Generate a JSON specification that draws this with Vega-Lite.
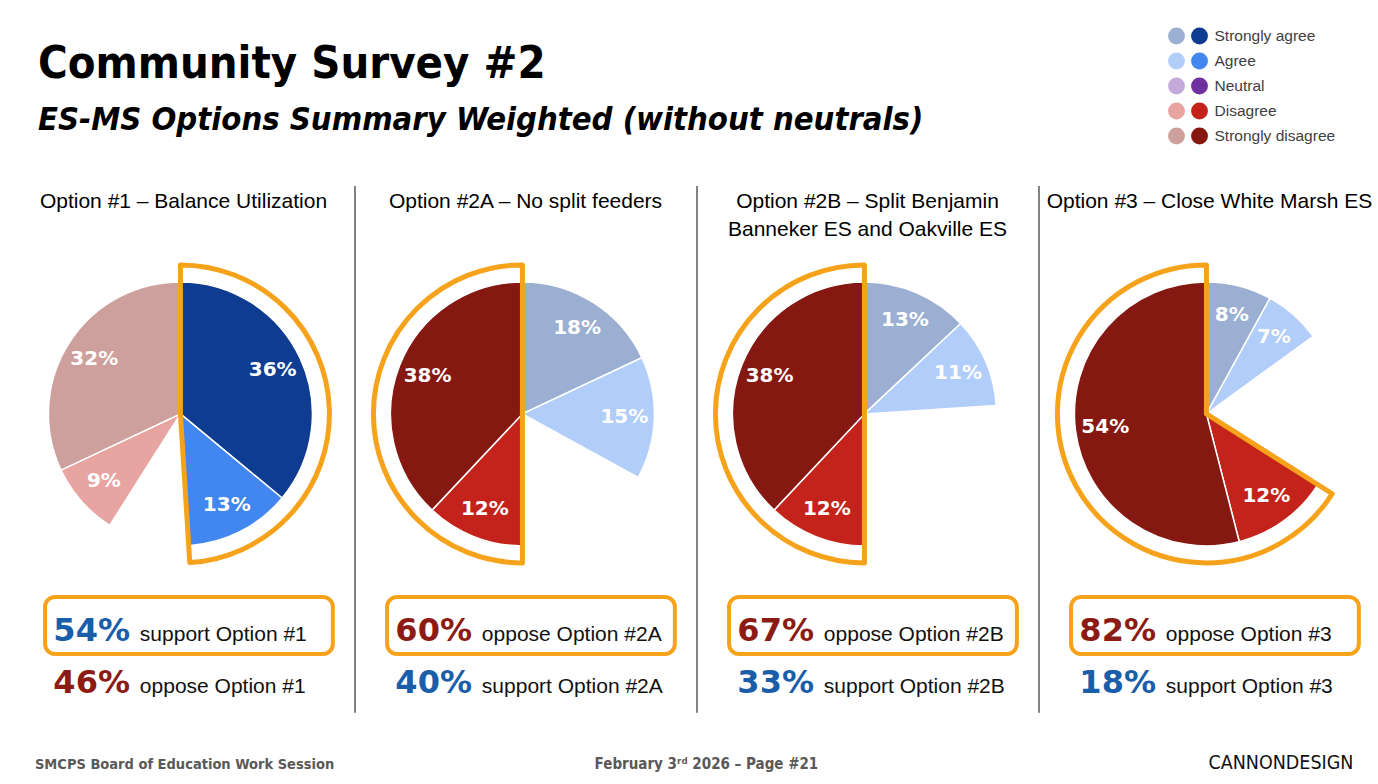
{
  "$schema": "https://vega.github.io/schema/vega-lite/v6.json",
  "padding": {"left": 13, "top": 0, "right": 0, "bottom": 0},
  "background": "white",
  "spacing": 0,
  "config": {
    "view": {"stroke": null},
    "concat": {"spacing": 0},
    "facet": {"spacing": 0},
    "font": "Liberation Sans"
  },
  "datasets": {
    "rows": [
      {"kind": "slice", "option": "Option #1", "cat": "Strongly agree", "ord": 1, "grp": "support", "shade": "bold", "value": 0.36},
      {"kind": "slice", "option": "Option #1", "cat": "Agree", "ord": 2, "grp": "support", "shade": "bold", "value": 0.13},
      {"kind": "slice", "option": "Option #1", "cat": "Neutral", "ord": 3, "grp": "neutral", "shade": "gap", "value": 0.10},
      {"kind": "slice", "option": "Option #1", "cat": "Disagree", "ord": 4, "grp": "oppose", "shade": "faded", "value": 0.09},
      {"kind": "slice", "option": "Option #1", "cat": "Strongly disagree", "ord": 5, "grp": "oppose", "shade": "faded", "value": 0.32},
      {"kind": "slice", "option": "Option #2A", "cat": "Strongly agree", "ord": 1, "grp": "support", "shade": "faded", "value": 0.18},
      {"kind": "slice", "option": "Option #2A", "cat": "Agree", "ord": 2, "grp": "support", "shade": "faded", "value": 0.15},
      {"kind": "slice", "option": "Option #2A", "cat": "Neutral", "ord": 3, "grp": "neutral", "shade": "gap", "value": 0.17},
      {"kind": "slice", "option": "Option #2A", "cat": "Disagree", "ord": 4, "grp": "oppose", "shade": "bold", "value": 0.12},
      {"kind": "slice", "option": "Option #2A", "cat": "Strongly disagree", "ord": 5, "grp": "oppose", "shade": "bold", "value": 0.38},
      {"kind": "slice", "option": "Option #2B", "cat": "Strongly agree", "ord": 1, "grp": "support", "shade": "faded", "value": 0.13},
      {"kind": "slice", "option": "Option #2B", "cat": "Agree", "ord": 2, "grp": "support", "shade": "faded", "value": 0.11},
      {"kind": "slice", "option": "Option #2B", "cat": "Neutral", "ord": 3, "grp": "neutral", "shade": "gap", "value": 0.26},
      {"kind": "slice", "option": "Option #2B", "cat": "Disagree", "ord": 4, "grp": "oppose", "shade": "bold", "value": 0.12},
      {"kind": "slice", "option": "Option #2B", "cat": "Strongly disagree", "ord": 5, "grp": "oppose", "shade": "bold", "value": 0.38},
      {"kind": "slice", "option": "Option #3", "cat": "Strongly agree", "ord": 1, "grp": "support", "shade": "faded", "value": 0.08},
      {"kind": "slice", "option": "Option #3", "cat": "Agree", "ord": 2, "grp": "support", "shade": "faded", "value": 0.07},
      {"kind": "slice", "option": "Option #3", "cat": "Neutral", "ord": 3, "grp": "neutral", "shade": "gap", "value": 0.19},
      {"kind": "slice", "option": "Option #3", "cat": "Disagree", "ord": 4, "grp": "oppose", "shade": "bold", "value": 0.12},
      {"kind": "slice", "option": "Option #3", "cat": "Strongly disagree", "ord": 5, "grp": "oppose", "shade": "bold", "value": 0.54},
      {"kind": "panel", "option": "Option #1", "title": "Option #1 – Balance Utilization", "hlValue": 0.54, "hlSide": "support", "hlText": "support Option #1", "otValue": 0.46, "otSide": "oppose", "otText": "oppose Option #1"},
      {"kind": "panel", "option": "Option #2A", "title": "Option #2A – No split feeders", "hlValue": 0.60, "hlSide": "oppose", "hlText": "oppose Option #2A", "otValue": 0.40, "otSide": "support", "otText": "support Option #2A"},
      {"kind": "panel", "option": "Option #2B", "title": "Option #2B – Split Benjamin\nBanneker ES and Oakville ES", "hlValue": 0.67, "hlSide": "oppose", "hlText": "oppose Option #2B", "otValue": 0.33, "otSide": "support", "otText": "support Option #2B"},
      {"kind": "panel", "option": "Option #3", "title": "Option #3 – Close White Marsh ES", "hlValue": 0.82, "hlSide": "oppose", "hlText": "oppose Option #3", "otValue": 0.18, "otSide": "support", "otText": "support Option #3"}
    ],
    "legend": [
      {"cat": "Strongly agree", "shade": "faded"},
      {"cat": "Strongly agree", "shade": "bold"},
      {"cat": "Agree", "shade": "faded"},
      {"cat": "Agree", "shade": "bold"},
      {"cat": "Neutral", "shade": "faded"},
      {"cat": "Neutral", "shade": "bold"},
      {"cat": "Disagree", "shade": "faded"},
      {"cat": "Disagree", "shade": "bold"},
      {"cat": "Strongly disagree", "shade": "faded"},
      {"cat": "Strongly disagree", "shade": "bold"}
    ]
  },
  "vconcat": [
    {
      "spacing": 0,
      "hconcat": [
        {
          "width": 1152,
          "height": 185,
          "data": {"values": [{}]},
          "layer": [
            {
              "mark": {"type": "text", "text": "Community Survey #2", "align": "left", "baseline": "alphabetic", "font": "DejaVu Sans Condensed", "fontWeight": "bold", "fontSize": 45, "color": "#000000"},
              "encoding": {
                "x": {"datum": 2.17, "type": "quantitative", "scale": {"domain": [0, 100]}, "axis": null},
                "y": {"datum": 57.8, "type": "quantitative", "scale": {"domain": [0, 100]}, "axis": null}
              }
            },
            {
              "mark": {"type": "text", "text": "ES-MS Options Summary Weighted (without neutrals)", "align": "left", "baseline": "alphabetic", "font": "DejaVu Sans Condensed", "fontWeight": "bold", "fontStyle": "italic", "fontSize": 32.5, "color": "#000000"},
              "encoding": {
                "x": {"datum": 2.17, "type": "quantitative"},
                "y": {"datum": 29.7, "type": "quantitative"}
              }
            }
          ]
        },
        {
          "width": 46,
          "height": 150,
          "data": {"name": "legend"},
          "layer": [
            {
              "mark": {"type": "circle", "size": 285, "opacity": 1},
              "encoding": {
                "x": {"field": "shade", "type": "nominal", "scale": {"type": "point", "domain": ["faded", "bold"], "padding": 0.5, "align": 0.5}, "axis": null},
                "y": {"field": "cat", "type": "nominal", "scale": {"type": "point", "domain": ["Strongly agree", "Agree", "Neutral", "Disagree", "Strongly disagree"], "padding": 1, "align": 0.72}, "axis": null},
                "color": {"field": "cat", "type": "nominal", "scale": {"domain": ["Strongly agree", "Agree", "Neutral", "Disagree", "Strongly disagree"], "range": ["#0D3C91", "#4286F0", "#7030A0", "#C4231B", "#861812"]}, "legend": null},
                "fillOpacity": {"field": "shade", "type": "nominal", "scale": {"type": "ordinal", "domain": ["faded", "bold", "gap"], "range": [0.41, 1, 0]}, "legend": null}
              }
            },
            {
              "transform": [{"filter": "datum.shade === 'bold'"}],
              "mark": {"type": "text", "align": "left", "baseline": "middle", "dx": 15, "fontSize": 15.5, "color": "#404040", "font": "Liberation Sans"},
              "encoding": {
                "x": {"field": "shade", "type": "nominal"},
                "y": {"field": "cat", "type": "nominal"},
                "text": {"field": "cat", "type": "nominal"}
              }
            }
          ]
        }
      ]
    },
    {
      "data": {"name": "rows"},
      "spacing": 0,
      "facet": {
        "column": {"field": "option", "type": "nominal", "title": null, "header": {"labels": false, "title": null}, "sort": ["Option #1", "Option #2A", "Option #2B", "Option #3"]}
      },
      "spec": {
        "width": 341,
        "height": 530,
        "layer": [
          {
            "transform": [{"filter": "datum.kind === 'panel' && datum.option !== 'Option #1'"}],
            "mark": {"type": "rule", "color": "#303030", "strokeWidth": 1.2},
            "encoding": {
              "x": {"datum": 0, "type": "quantitative", "scale": {"domain": [0, 100]}, "axis": null},
              "y": {"datum": 0.6, "type": "quantitative", "scale": {"domain": [0, 100]}, "axis": null},
              "y2": {"datum": 100}
            }
          },
          {
            "transform": [{"filter": "datum.kind === 'slice'"}],
            "mark": {"type": "arc", "outerRadius": 132, "stroke": "white", "strokeWidth": 1.5},
            "encoding": {
              "theta": {"field": "value", "type": "quantitative", "stack": true, "scale": {"domain": [0, 1]}},
              "order": {"field": "ord", "type": "quantitative"},
              "color": {"field": "cat", "type": "nominal", "legend": null},
              "fillOpacity": {"field": "shade", "type": "nominal", "scale": {"type": "ordinal", "domain": ["faded", "bold", "gap"], "range": [0.41, 1, 0]}, "legend": null},
              "strokeOpacity": {"condition": {"test": "datum.shade === 'gap'", "value": 0}, "value": 1},
              "x": {"datum": 49.1, "type": "quantitative"},
              "y": {"datum": 57, "type": "quantitative"}
            }
          },
          {
            "transform": [{"filter": "datum.kind === 'slice'"}],
            "mark": {"type": "arc", "outerRadius": 149, "fill": "transparent", "stroke": "#F7A21B", "strokeWidth": 5, "strokeJoin": "round"},
            "encoding": {
              "theta": {"aggregate": "sum", "field": "value", "type": "quantitative", "stack": true},
              "order": {"aggregate": "min", "field": "ord", "type": "quantitative"},
              "detail": {"field": "grp", "type": "nominal"},
              "strokeOpacity": {"field": "shade", "type": "nominal", "scale": {"type": "ordinal", "domain": ["faded", "bold", "gap"], "range": [0, 1, 0]}, "legend": null},
              "x": {"datum": 49.1, "type": "quantitative"},
              "y": {"datum": 57, "type": "quantitative"}
            }
          },
          {
            "transform": [{"filter": "datum.kind === 'slice'"}],
            "mark": {"type": "text", "radius": 102, "font": "DejaVu Sans", "fontWeight": "bold", "fontSize": 20, "color": "white"},
            "encoding": {
              "theta": {"field": "value", "type": "quantitative", "stack": true},
              "order": {"field": "ord", "type": "quantitative"},
              "text": {"field": "value", "type": "quantitative", "format": ".0%"},
              "opacity": {"condition": {"test": "datum.shade === 'gap'", "value": 0}, "value": 1},
              "x": {"datum": 49.1, "type": "quantitative"},
              "y": {"datum": 57, "type": "quantitative"}
            }
          },
          {
            "transform": [{"filter": "datum.kind === 'panel'"}],
            "mark": {"type": "text", "baseline": "top", "align": "center", "fontSize": 21, "lineHeight": 28, "lineBreak": "\n", "color": "#000000"},
            "encoding": {
              "text": {"field": "title", "type": "nominal"},
              "x": {"datum": 50, "type": "quantitative"},
              "y": {"datum": 99, "type": "quantitative"}
            }
          },
          {
            "transform": [{"filter": "datum.kind === 'panel'"}],
            "mark": {"type": "rect", "fill": "transparent", "stroke": "#F7A21B", "strokeWidth": 4, "cornerRadius": 10},
            "encoding": {
              "x": {"datum": 9.4, "type": "quantitative"},
              "x2": {"datum": 93.8},
              "y": {"datum": 22.45, "type": "quantitative"},
              "y2": {"datum": 11.7}
            }
          },
          {
            "transform": [{"filter": "datum.kind === 'panel'"}],
            "mark": {"type": "text", "align": "right", "baseline": "alphabetic", "font": "DejaVu Sans", "fontWeight": "bold", "fontSize": 32},
            "encoding": {
              "text": {"field": "hlValue", "type": "quantitative", "format": ".0%"},
              "color": {"condition": {"test": "datum.hlSide === 'support'", "value": "#1A5DA8"}, "value": "#8C1B14"},
              "x": {"datum": 34.3, "type": "quantitative"},
              "y": {"datum": 14.15, "type": "quantitative"}
            }
          },
          {
            "transform": [{"filter": "datum.kind === 'panel'"}],
            "mark": {"type": "text", "align": "left", "baseline": "alphabetic", "fontSize": 21, "color": "#111111"},
            "encoding": {
              "text": {"field": "hlText", "type": "nominal"},
              "x": {"datum": 37.2, "type": "quantitative"},
              "y": {"datum": 14.15, "type": "quantitative"}
            }
          },
          {
            "transform": [{"filter": "datum.kind === 'panel'"}],
            "mark": {"type": "text", "align": "right", "baseline": "alphabetic", "font": "DejaVu Sans", "fontWeight": "bold", "fontSize": 32},
            "encoding": {
              "text": {"field": "otValue", "type": "quantitative", "format": ".0%"},
              "color": {"condition": {"test": "datum.otSide === 'support'", "value": "#1A5DA8"}, "value": "#8C1B14"},
              "x": {"datum": 34.3, "type": "quantitative"},
              "y": {"datum": 4.34, "type": "quantitative"}
            }
          },
          {
            "transform": [{"filter": "datum.kind === 'panel'"}],
            "mark": {"type": "text", "align": "left", "baseline": "alphabetic", "fontSize": 21, "color": "#111111"},
            "encoding": {
              "text": {"field": "otText", "type": "nominal"},
              "x": {"datum": 37.2, "type": "quantitative"},
              "y": {"datum": 4.34, "type": "quantitative"}
            }
          }
        ]
      }
    },
    {
      "width": 1365,
      "height": 69,
      "data": {"values": [{}]},
      "layer": [
        {
          "mark": {"type": "text", "text": "SMCPS Board of Education Work Session", "align": "left", "baseline": "alphabetic", "font": "DejaVu Sans Condensed", "fontWeight": "bold", "fontSize": 14.5, "color": "#595959"},
          "encoding": {
            "x": {"datum": 1.61, "type": "quantitative", "scale": {"domain": [0, 100]}, "axis": null},
            "y": {"datum": 23.2, "type": "quantitative", "scale": {"domain": [0, 100]}, "axis": null}
          }
        },
        {
          "mark": {"type": "text", "text": "February 3ʳᵈ 2026 – Page #21", "align": "center", "baseline": "alphabetic", "font": "DejaVu Sans Condensed", "fontWeight": "bold", "fontSize": 15, "color": "#595959"},
          "encoding": {
            "x": {"datum": 50.8, "type": "quantitative"},
            "y": {"datum": 23.2, "type": "quantitative"}
          }
        },
        {
          "mark": {"type": "text", "text": "CANNONDESIGN", "align": "right", "baseline": "alphabetic", "font": "DejaVu Sans Condensed", "fontSize": 19.5, "color": "#111111"},
          "encoding": {
            "x": {"datum": 98.2, "type": "quantitative"},
            "y": {"datum": 23.2, "type": "quantitative"}
          }
        }
      ]
    }
  ]
}
